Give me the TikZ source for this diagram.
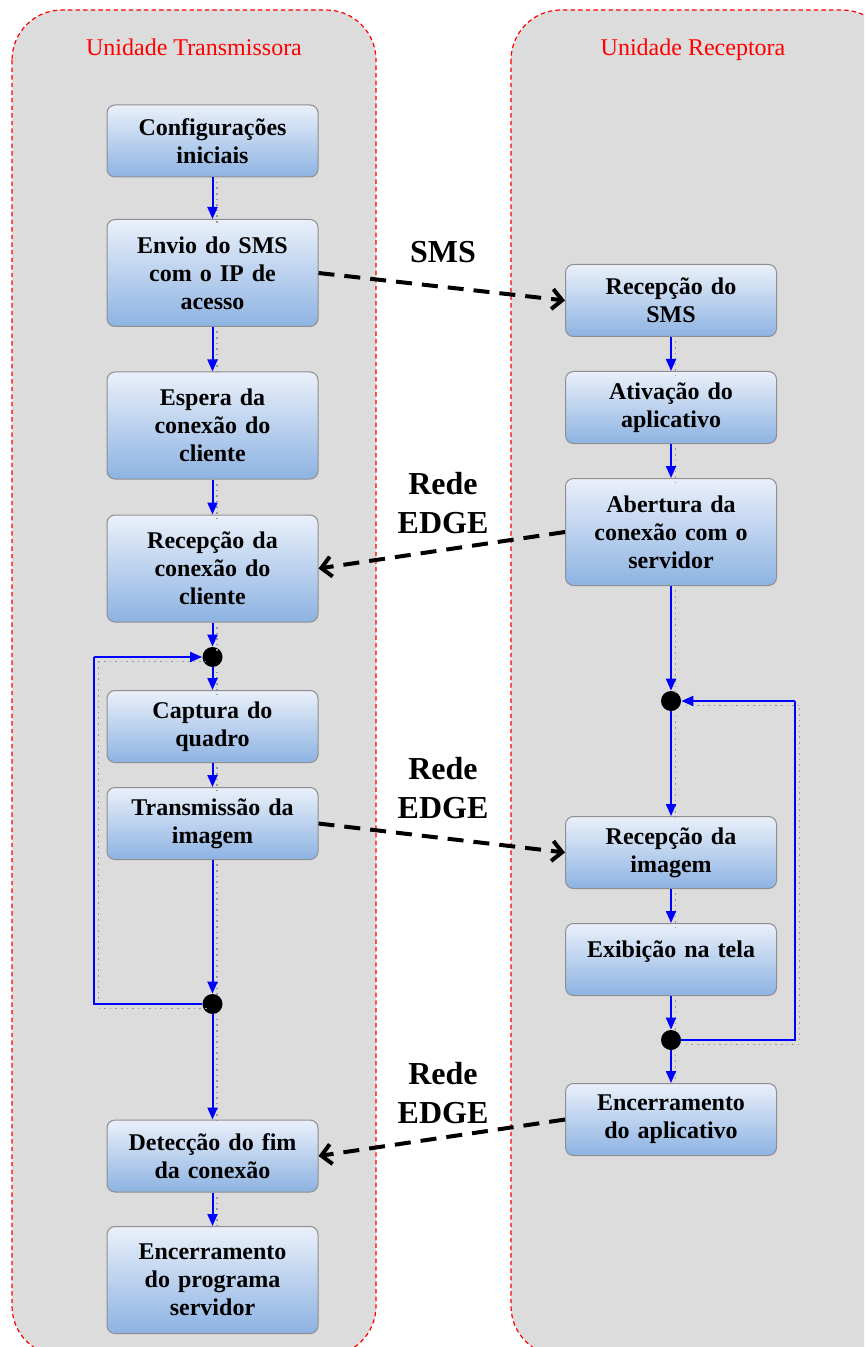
\documentclass[tikz,border=0pt]{standalone}
\usepackage{fontspec}
\setmainfont{Liberation Serif}
\usepackage{xcolor}
\usepackage{tikz}
\usetikzlibrary{arrows.meta}

\definecolor{fundo}{HTML}{DCDCDC}
\definecolor{caixatopo}{HTML}{EAF0FA}
\definecolor{caixabase}{HTML}{8DB3E2}
\definecolor{caixaborda}{HTML}{8E8E8E}

\begin{document}
\begin{tikzpicture}[x=0.5pt,y=-0.5pt,
	painel/.style={draw=red, fill=fundo, dash pattern=on 2.2pt off 1.6pt, line width=0.6pt, rounded corners=25pt},
	titulo/.style={text=red, anchor=base, font=\fontsize{12}{14}\selectfont},
	etapa/.style={draw=caixaborda, line width=0.5pt, rounded corners=4pt, top color=caixatopo, bottom color=caixabase, minimum width=105.5pt, minimum height=36pt, text width=100pt, align=center, inner sep=0pt, font=\fontsize{12}{14}\selectfont\bfseries},
	etapa3/.style={etapa, minimum height=53.5pt},
	juncao/.style={circle, fill=black, inner sep=0pt, minimum size=10pt},
	fluxo/.style={draw=blue, line width=1pt, -{Triangle[width=5pt,length=6pt]}, preaction={draw=gray!80, line width=0.8pt, dotted, -, transform canvas={shift={(2.2pt,-2.2pt)}}}},
	laco/.style={draw=blue, line width=1pt, preaction={draw=gray!80, line width=0.8pt, dotted, transform canvas={shift={(2.2pt,-2.2pt)}}}},
	rede/.style={draw=black, line width=2pt, dash pattern=on 8pt off 5pt, -{Straight Barb[length=5pt,width=10pt]}},
	rotulo/.style={align=center, font=\fontsize{16}{19.5}\selectfont\bfseries}]

	\clip (0,0) rectangle (864,1347);

	% paineis das duas unidades
	\draw[painel] (12,10) rectangle (376,1356);
	\draw[painel] (511,10) rectangle (892,1356);
	\node[titulo] (tit1) at (194,56) {Unidade Transmissora};
	\node[titulo] (tit2) at (693,56) {Unidade Receptora};

	% unidade transmissora
	\node[etapa] (cfg) at (212.5,141) {Configurações\\iniciais};
	\node[etapa3] (envio) at (212.5,273) {Envio do SMS\\com o IP de\\acesso};
	\node[etapa3] (espera) at (212.5,425.5) {Espera da\\conexão do\\cliente};
	\node[etapa3] (recep) at (212.5,568.5) {Recepção da\\conexão do\\cliente};
	\node[juncao] (j1) at (212.5,657) {};
	\node[etapa] (captura) at (212.5,726.5) {Captura do\\quadro};
	\node[etapa] (transm) at (212.5,823.5) {Transmissão da\\imagem};
	\node[juncao] (j2) at (212.5,1004) {};
	\node[etapa] (detec) at (212.5,1156) {Detecção do fim\\da conexão};
	\node[etapa3] (encer) at (212.5,1280) {Encerramento\\do programa\\servidor};

	% unidade receptora
	\node[etapa] (rsms) at (671,300.5) {Recepção do\\SMS};
	\node[etapa] (ativ) at (671,407.5) {Ativação do\\aplicativo};
	\node[etapa3] (abert) at (671,532) {Abertura da\\conexão com o\\servidor};
	\node[juncao] (j3) at (671,701) {};
	\node[etapa] (rimg) at (671,852.5) {Recepção da\\imagem};
	\node[etapa] (exib) at (671,959.5) {Exibição na tela\\[-4pt]\mbox{}};
	\node[juncao] (j4) at (671,1040) {};
	\node[etapa] (encap) at (671,1119.5) {Encerramento\\do aplicativo};

	% cantos dos lacos
	\coordinate (la) at (94,1004);
	\coordinate (lb) at (94,657);
	\coordinate (ra) at (795,1040);
	\coordinate (rb) at (795,701);

	\draw[fluxo] (cfg) -- (envio);
	\draw[fluxo] (envio) -- (espera);
	\draw[fluxo] (espera) -- (recep);
	\draw[fluxo] (recep) -- (j1);
	\draw[fluxo] (j1) -- (captura);
	\draw[fluxo] (captura) -- (transm);
	\draw[fluxo] (transm) -- (j2);
	\draw[fluxo] (j2) -- (detec);
	\draw[fluxo] (detec) -- (encer);
	\draw[laco] (j2.west) -- (la) -- (lb);
	\draw[fluxo] (lb) -- (j1.west);

	\draw[fluxo] (rsms) -- (ativ);
	\draw[fluxo] (ativ) -- (abert);
	\draw[fluxo] (abert) -- (j3);
	\draw[fluxo] (j3) -- (rimg);
	\draw[fluxo] (rimg) -- (exib);
	\draw[fluxo] (exib) -- (j4);
	\draw[fluxo] (j4) -- (encap);
	\draw[laco] (j4.east) -- (ra) -- (rb);
	\draw[fluxo] (rb) -- (j3.east);

	% mensagens entre as unidades
	\draw[rede] (envio.east) -- (rsms.west);
	\draw[rede] (abert.west) -- (recep.east);
	\draw[rede] (transm.east) -- (rimg.west);
	\draw[rede] (encap.west) -- (detec.east);
	\node[rotulo] (msg1) at (443,252) {SMS};
	\node[rotulo] (msg2) at (443,503) {Rede\\EDGE};
	\node[rotulo] (msg3) at (443,788) {Rede\\EDGE};
	\node[rotulo] (msg4) at (443,1093) {Rede\\EDGE};
\end{tikzpicture}
\end{document}
